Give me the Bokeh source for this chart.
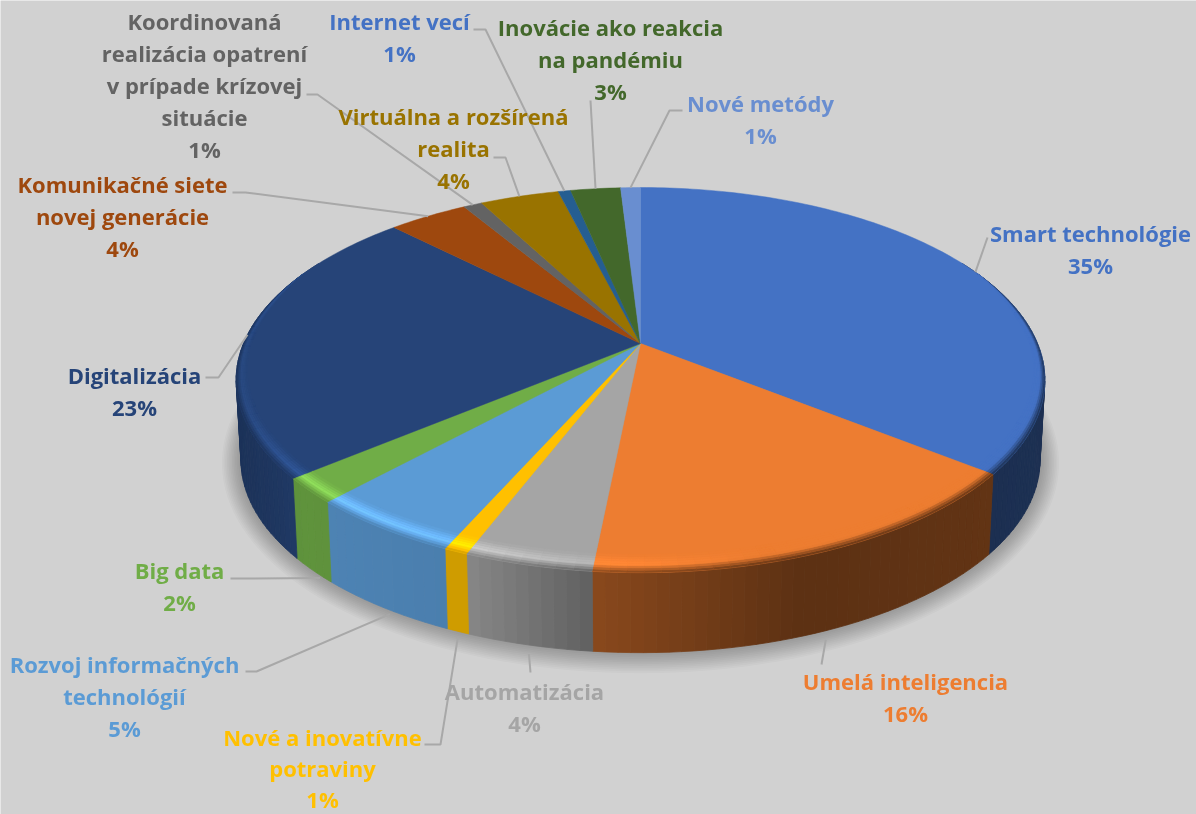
import numpy as np
from bokeh.core.properties import value
from bokeh.embed import file_html
from bokeh.models import ColumnDataSource, InlineStyleSheet
from bokeh.plotting import figure
from bokeh.resources import INLINE

categories = ["Smart technológie", "Umelá inteligencia", "Automatizácia", "Nové a inovatívne potraviny",
              "Rozvoj informačných technológií", "Big data", "Digitalizácia", "Komunikačné siete novej generácie",
              "Koordinovaná realizácia opatrení v prípade krízovej situácie", "Virtuálna a rozšírená realita",
              "Internet vecí", "Inovácie ako reakcia na pandémiu", "Nové metódy"]
percent_labels = ["35%", "16%", "4%", "1%", "5%", "2%", "23%", "4%", "1%", "4%", "1%", "3%", "1%"]
shares = [35.7, 15.9, 4.3, 0.8, 5.2, 2.1, 23.6, 3.8, 0.9, 3.8, 0.6, 2.4, 0.95]
face_colors = ["#4472c4", "#ed7d31", "#a5a5a5", "#ffc000", "#5b9bd5", "#70ad47", "#264478",
               "#9e480e", "#636363", "#997300", "#255e91", "#43682b", "#698ed0"]
label_colors = list(face_colors)
label_colors[10] = "#4472c4"

# layout of the label blocks: wrapped lines, centre x, first line y, line step
label_lines = [["Smart technológie"], ["Umelá inteligencia"], ["Automatizácia"], ["Nové a inovatívne", "potraviny"],
               ["Rozvoj informačných", "technológií"], ["Big data"], ["Digitalizácia"],
               ["Komunikačné siete", "novej generácie"],
               ["Koordinovaná", "realizácia opatrení", "v prípade krízovej", "situácie"],
               ["Virtuálna a rozšírená", "realita"], ["Internet vecí"], ["Inovácie ako reakcia", "na pandémiu"],
               ["Nové metódy"]]
label_cx = [1090, 905, 524, 322, 124, 179, 134, 122, 204, 453, 399, 610, 760]
label_y0 = [232, 680, 690, 736.5, 663, 569, 374, 183, 20, 115, 20, 26, 102]
label_step = [32.2, 32.2, 32.2, 31.2, 32.2, 32.2, 32.2, 32.2, 32.2, 32.2, 32.2, 32.2, 32.2]
leader_elbows = [[(987, 237)], [(821, 664)], [(530, 672)], [(424, 744), (440, 744)], [(245, 671), (256, 671)],
                 [(230, 578)], [(205, 377), (218, 377)], [(232, 192), (245, 192)], [(306, 94), (317, 94)],
                 [(493, 157), (505, 157)], [(473, 29), (485, 29)], [(590, 100)], [(682, 110), (669, 110)]]
leader_frac = [.51, .5, .5, .5, .45, .3, .5, .5, .5, .5, .5, .5, .5]
leader_gap = [0, 9, 9, 6, 4, 3, 0, 0, 0, 0, 0, 0, 0]

CX, CY, A, B, K = 640.0, 343.0, 185.6, 397.0, 0.19
DEPTH, TAPER = 80.0, 0.988
BG = "#d1d1d1"


def project(t, r=1.0):
    t = np.radians(t)
    X, Y = r * np.sin(t), r * np.cos(t)
    w = 1 + K * Y
    return CX + B * X / w, CY - A * Y / w


def lower(x, y):
    return CX + (x - CX) * TAPER, y + DEPTH


def rgb(h):
    return np.array([int(h[i:i + 2], 16) for i in (1, 3, 5)], dtype=float)


def hexc(c):
    c = np.clip(np.round(c), 0, 255).astype(int)
    return "#%02x%02x%02x" % tuple(c)


def wall_factor(x):
    return np.interp(x, [238, 300, 470, 592, 800, 1043], [.74, .85, .81, .58, .39, .42])


def glow_factor(x):
    return np.interp(x, [238, 300, 470, 592, 760, 1043], [1.08, 1.3, 1.25, 1.12, 1.0, 1.0])


p = figure(width=1196, height=814, x_range=(0, 1196), y_range=(814, 0), toolbar_location=None,
           output_backend="svg", min_border=0, outline_line_color=None, background_fill_color=BG,
           border_fill_color=BG)
p.axis.visible = False
p.grid.visible = False
p.stylesheets = [InlineStyleSheet(css=":host{position:fixed !important;left:0;top:0}")]

bounds = np.concatenate([[0], np.cumsum(shares)]) / np.sum(shares) * 360

# soft shadow beneath the pie
ring = np.linspace(0, 360, 181)
rx, ry = lower(*project(ring))
mid_y = (ry.min() + ry.max()) / 2
for grow in np.linspace(20, 1, 12):
    sx = CX + (rx - CX) * (1 + grow / 420)
    sy = ry + (ry - mid_y) * grow / 220 + grow * 0.15
    p.patch(sx, sy, fill_color="#000000", fill_alpha=0.024, line_color=None)

# outer wall, strip by strip
wx, wy, wc = [], [], []
for i, color in enumerate(face_colors):
    t0, t1 = max(bounds[i], 62), min(bounds[i + 1], 298)
    if t1 <= t0:
        continue
    ts = np.linspace(t0, t1, max(2, int((t1 - t0) / 1.5) + 1))
    x, y = project(ts)
    xb, yb = lower(x, y)
    for j in range(len(ts) - 1):
        wx.append([x[j], x[j + 1], xb[j + 1], xb[j]])
        wy.append([y[j], y[j + 1], yb[j + 1], yb[j]])
        wc.append(hexc(rgb(color) * wall_factor((x[j] + x[j + 1]) / 2)))
p.patches("x", "y", fill_color="c", line_color="c", line_width=0.8,
          source=ColumnDataSource(dict(x=wx, y=wy, c=wc)))

# top face
fx, fy = [], []
for i in range(len(shares)):
    ts = np.linspace(bounds[i], bounds[i + 1], max(3, int(bounds[i + 1] - bounds[i]) + 2))
    x, y = project(ts)
    fx.append([CX] + list(x))
    fy.append([CY] + list(y))
p.patches("x", "y", fill_color="c", line_color="c", line_width=0.5,
          source=ColumnDataSource(dict(x=fx, y=fy, c=face_colors)))


def rad(t, u):
    fade = np.clip(min(t - 66, 294 - t) / 24, 0, 1)
    return 1 - fade * u * (0.02 + 0.045 * abs(np.cos(np.radians(t))))


# bevel between the face and the wall
bu = np.linspace(0, 1, 9)
bx, by, bc = [], [], []
for i, color in enumerate(face_colors):
    t0, t1 = max(bounds[i], 66), min(bounds[i + 1], 294)
    if t1 <= t0:
        continue
    ts = np.linspace(t0, t1, max(2, int((t1 - t0) / 2) + 1))
    base = rgb(color)
    for j in range(len(ts) - 1):
        a, b = ts[j], ts[j + 1]
        for n in range(len(bu) - 1):
            xa0, ya0 = project(a, rad(a, bu[n]))
            xb0, yb0 = project(b, rad(b, bu[n]))
            xb1, yb1 = project(b, rad(b, bu[n + 1]))
            xa1, ya1 = project(a, rad(a, bu[n + 1]))
            bx.append([xa0, xb0, xb1, xa1])
            by.append([ya0, yb0, yb1, ya1])
            xm = (xa0 + xb0) / 2
            u = (bu[n] + bu[n + 1]) / 2
            wall, glow = base * wall_factor(xm), base * glow_factor(xm)
            if u < 0.45:
                col = wall + (glow - wall) * (u / 0.45)
            else:
                col = glow + (base - glow) * ((u - 0.45) / 0.55)
            bc.append(hexc(col))
p.patches("x", "y", fill_color="c", line_color="c", line_width=0.4,
          source=ColumnDataSource(dict(x=bx, y=by, c=bc)))

# leader lines and labels
for i, elbows in enumerate(leader_elbows):
    mid = bounds[i] + (bounds[i + 1] - bounds[i]) * leader_frac[i]
    ex, ey = project(mid)
    if 90 < mid < 270:
        ex, ey = lower(ex, ey)
        ey += leader_gap[i]
    xs = [q[0] for q in elbows] + [ex]
    ys = [q[1] for q in elbows] + [ey]
    p.line(xs, ys, line_color="#a8a8a8", line_width=2)

tx, ty, ts_, tc = [], [], [], []
for i, lines in enumerate(label_lines):
    for n, s in enumerate(lines + [percent_labels[i]]):
        tx.append(label_cx[i])
        ty.append(label_y0[i] + n * label_step[i])
        ts_.append(s)
        tc.append(label_colors[i])
p.text("x", "y", text="t", text_color="c", text_align="center", text_baseline="middle",
       text_font=value("Open Sans"), text_font_style="bold", text_font_size="22px",
       source=ColumnDataSource(dict(x=tx, y=ty, t=ts_, c=tc)))

open("out.html", "w").write(file_html(p, INLINE))
